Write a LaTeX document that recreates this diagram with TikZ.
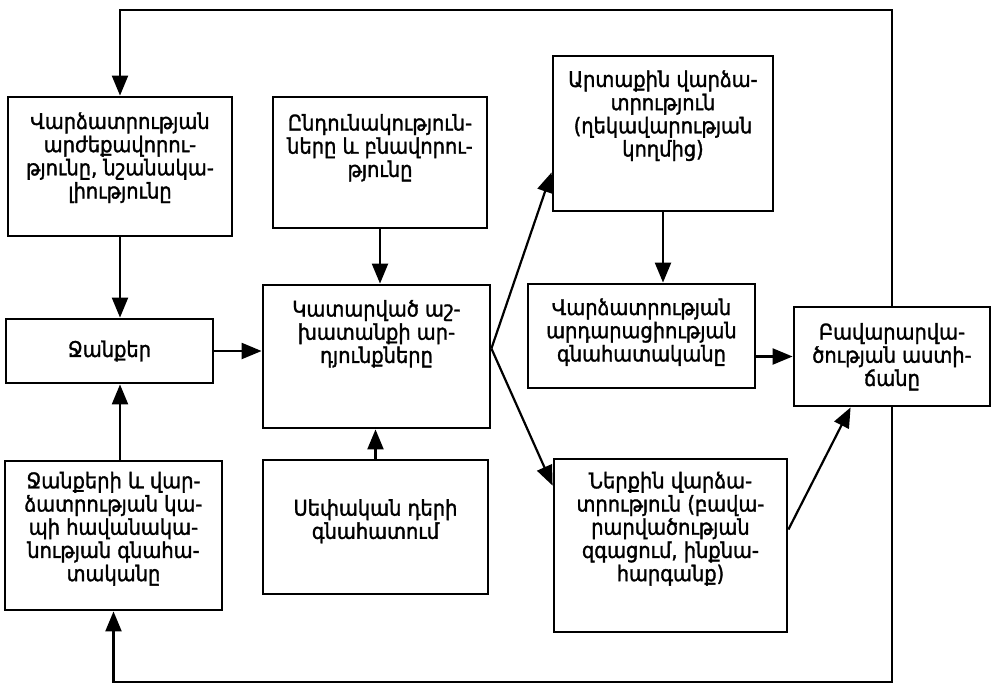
\documentclass[tikz,border=0pt]{standalone}
\usepackage{fontspec}
\newfontfamily\armfont[FakeBold=1.5]{DejaVu Sans Condensed}
\usetikzlibrary{arrows.meta}

\begin{document}
\begin{tikzpicture}[x=0.5pt,y=-0.5pt,
    box/.style={draw, line width=1.4pt, align=center, inner sep=0pt, font=\armfont\fontsize{10.8}{11.6}\selectfont},
    arr/.style={line width=1.1pt, -{Triangle[length=10pt,width=8pt]}}]
    \useasboundingbox (0,0) rectangle (995,685);

\node[box, minimum width=112pt, minimum height=69.5pt, text depth=11pt] (a) at (120,166.5) {Վարձատրության\\արժեքավորու-\\թյունը, նշանակա-\\լիությունը};
\node[box, minimum width=107pt, minimum height=65.5pt, text depth=17pt] (b) at (380,162.5) {Ընդունակություն-\\ները և բնավորու-\\թյունը};
\node[box, minimum width=110pt, minimum height=77.5pt, text depth=20pt] (c) at (663,133.5) {Արտաքին վարձա-\\տրություն\\(ղեկավարության\\կողմից)};
\node[box, minimum width=103.5pt, minimum height=32pt] (z) at (109.5,351) {Ջանքեր};
\node[box, minimum width=113.5pt, minimum height=71.5pt, text depth=25pt] (d) at (376.5,356.5) {Կատարված աշ-\\խատանքի ար-\\դյունքները};
\node[box, minimum width=113.5pt, minimum height=52pt, text depth=6pt] (e) at (641.5,336) {Վարձատրության\\արդարացիության\\գնահատականը};
\node[box, minimum width=98pt, minimum height=49.5pt, text depth=2pt] (f) at (892,356.5) {Բավարարվա-\\ծության աստի-\\ճանը};
\node[box, minimum width=108.5pt, minimum height=74.5pt, text depth=9pt] (g) at (113.5,535.5) {Ջանքերի և վար-\\ձատրության կա-\\պի հավանակա-\\նության գնահա-\\տականը};
\node[box, minimum width=112.5pt, minimum height=67pt, text depth=8pt] (h) at (375.5,527) {Սեփական դերի\\գնահատում};
\node[box, minimum width=116.5pt, minimum height=86.5pt, text depth=19pt] (i) at (670.5,545.5) {Ներքին վարձա-\\տրություն (բավա-\\րարվածության\\զգացում, ինքնա-\\հարգանք)};

\coordinate (top) at (0,10);
\coordinate (bot) at (0,682);

\draw[arr] (a.south) -- (a.south |- z.north);
\draw[arr] (g.north -| a.south) -- (a.south |- z.south);
\draw[arr] (z.east) -- (z.east -| d.west);
\draw[arr] (b.south) -- (b.south |- d.north);
\draw[arr] (h.north) -- (h.north |- d.south);
\draw[arr] ([yshift=4pt]d.east) -- ([yshift=20pt]c.south west);
\draw[arr] ([yshift=4pt]d.east) -- ([yshift=-14pt]i.north west);
\draw[arr] (c.south) -- (c.south |- e.north);
\draw[arr] (f.west -| e.east) -- (f.west);
\draw[arr] ([yshift=8pt]i.east) -- ([xshift=29pt]f.south west);

% feedback loop
\draw[arr] (f.north) -- (f.north |- top) -- (a.north |- top) -- (a.north);
\draw[arr] (f.south) -- (f.south |- bot) -- (g.south |- bot) -- (g.south);

\end{tikzpicture}
\end{document}
